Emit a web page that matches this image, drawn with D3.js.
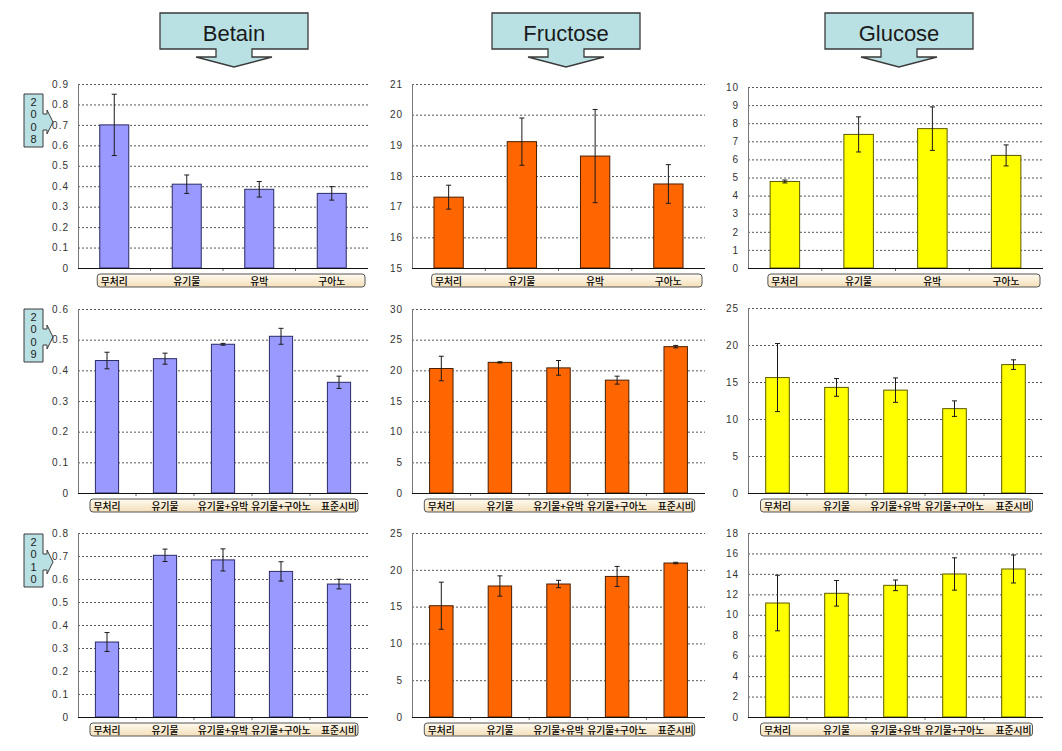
<!DOCTYPE html>
<html><head><meta charset="utf-8">
<script src="https://cdn.jsdelivr.net/npm/d3@7"></script>
<style>
html,body{margin:0;padding:0;background:#fff;}
svg{display:block;}
</style></head>
<body>
<svg id="chart" width="1062" height="751"></svg>
<script>
// ---------------- data ----------------
const compounds = ["Betain", "Fructose", "Glucose"];
const years = ["2008", "2009", "2010"];
const categories2008 = ["무처리", "유기물", "유박", "구아노"];
const categories = ["무처리", "유기물", "유기물+유박", "유기물+구아노", "표준시비"];

const betain2008 = [0.70, 0.41, 0.385, 0.365];
const betain2008Err = [0.15, 0.045, 0.038, 0.033];
const fructose2008 = [17.31, 19.12, 18.65, 17.74];
const fructose2008Err = [0.39, 0.77, 1.52, 0.63];
const glucose2008 = [4.78, 7.38, 7.70, 6.22];
const glucose2008Err = [0.08, 0.97, 1.2, 0.58];

const betain2009 = [0.432, 0.438, 0.485, 0.511, 0.361];
const betain2009Err = [0.027, 0.018, 0.003, 0.026, 0.02];
const fructose2009 = [20.3, 21.3, 20.4, 18.4, 23.86];
const fructose2009Err = [2.0, 0.1, 1.2, 0.65, 0.2];
const glucose2009 = [15.6, 14.27, 13.9, 11.4, 17.35];
const glucose2009Err = [4.6, 1.2, 1.65, 1.05, 0.65];

const betain2010 = [0.326, 0.703, 0.683, 0.633, 0.578];
const betain2010Err = [0.041, 0.027, 0.048, 0.042, 0.021];
const fructose2010 = [15.12, 17.8, 18.07, 19.1, 20.92];
const fructose2010Err = [3.2, 1.38, 0.5, 1.36, 0.1];
const glucose2010 = [11.15, 12.1, 12.88, 13.99, 14.48];
const glucose2010Err = [2.72, 1.25, 0.52, 1.58, 1.37];

const betain2008Ticks = [0, 0.1, 0.2, 0.3, 0.4, 0.5, 0.6, 0.7, 0.8, 0.9];
const fructose2008Ticks = [15, 16, 17, 18, 19, 20, 21];
const glucose2008Ticks = [0, 1, 2, 3, 4, 5, 6, 7, 8, 9, 10];
const betain2009Ticks = [0, 0.1, 0.2, 0.3, 0.4, 0.5, 0.6];
const fructose2009Ticks = [0, 5, 10, 15, 20, 25, 30];
const glucose2009Ticks = [0, 5, 10, 15, 20, 25];
const betain2010Ticks = [0, 0.1, 0.2, 0.3, 0.4, 0.5, 0.6, 0.7, 0.8];
const fructose2010Ticks = [0, 5, 10, 15, 20, 25];
const glucose2010Ticks = [0, 2, 4, 6, 8, 10, 12, 14, 16, 18];

// ---------------- layout / style ----------------
const fills = ["#9999ff", "#ff6600", "#ffff00"];
const outlines = ["#2b2b66", "#4a1e00", "#5c5a00"];
const colX = [78, 412, 748];
const colW = [290, 293, 295];
const rowTop = [[84, 84, 87], [309, 309, 308], [533, 533, 533]];
const rowBottom = [268, 493, 717];
const calloutCx = [234, 566, 899];
const yearBoxTop = [94, 309, 534];

const panels = [
  {r:0,c:0,cats:categories2008,v:betain2008,e:betain2008Err,t:betain2008Ticks},
  {r:0,c:1,cats:categories2008,v:fructose2008,e:fructose2008Err,t:fructose2008Ticks},
  {r:0,c:2,cats:categories2008,v:glucose2008,e:glucose2008Err,t:glucose2008Ticks},
  {r:1,c:0,cats:categories,v:betain2009,e:betain2009Err,t:betain2009Ticks},
  {r:1,c:1,cats:categories,v:fructose2009,e:fructose2009Err,t:fructose2009Ticks},
  {r:1,c:2,cats:categories,v:glucose2009,e:glucose2009Err,t:glucose2009Ticks},
  {r:2,c:0,cats:categories,v:betain2010,e:betain2010Err,t:betain2010Ticks},
  {r:2,c:1,cats:categories,v:fructose2010,e:fructose2010Err,t:fructose2010Ticks},
  {r:2,c:2,cats:categories,v:glucose2010,e:glucose2010Err,t:glucose2010Ticks}
];

const svg = d3.select("#chart");
const defs = svg.append("defs");
const grad = defs.append("linearGradient").attr("id","lblGrad").attr("x1",0).attr("y1",0).attr("x2",0).attr("y2",1);
grad.append("stop").attr("offset","0%").attr("stop-color","#fffaf0");
grad.append("stop").attr("offset","100%").attr("stop-color","#f3dfb8");

const calloutFill = "#b9e1e4";

// ---------------- header callouts ----------------
compounds.forEach((name, i) => {
  const cx = calloutCx[i], top = 13, h = 36, w = 148;
  const g = svg.append("g");
  const p = d3.path();
  p.moveTo(cx - w/2, top);
  p.lineTo(cx + w/2, top);
  p.lineTo(cx + w/2, top + h);
  p.lineTo(cx + 18, top + h);
  p.lineTo(cx + 18, top + h + 8);
  p.lineTo(cx + 38, top + h + 8);
  p.lineTo(cx, top + h + 18);
  p.lineTo(cx - 38, top + h + 8);
  p.lineTo(cx - 18, top + h + 8);
  p.lineTo(cx - 18, top + h);
  p.lineTo(cx - w/2, top + h);
  p.closePath();
  g.append("path").attr("d", p.toString()).attr("fill", calloutFill)
    .attr("stroke", "#3a3a3a").attr("stroke-width", 1.3);
  g.append("text").attr("x", cx).attr("y", top + 28)
    .attr("text-anchor", "middle")
    .attr("font-family", "Liberation Sans, Arial, sans-serif")
    .attr("font-size", 22).attr("fill", "#1a1a1a").text(name);
});

// ---------------- year callouts ----------------
years.forEach((yr, i) => {
  const top = yearBoxTop[i], x0 = 24, w = 19, h = 53, mid = top + 28;
  const g = svg.append("g");
  const p = d3.path();
  p.moveTo(x0, top);
  p.lineTo(x0 + w, top);
  p.lineTo(x0 + w, mid - 8);
  p.lineTo(x0 + w + 4, mid - 8);
  p.lineTo(x0 + w + 4, mid - 12);
  p.lineTo(x0 + w + 10, mid);
  p.lineTo(x0 + w + 4, mid + 12);
  p.lineTo(x0 + w + 4, mid + 8);
  p.lineTo(x0 + w, mid + 8);
  p.lineTo(x0 + w, top + h);
  p.lineTo(x0, top + h);
  p.closePath();
  g.append("path").attr("d", p.toString()).attr("fill", calloutFill)
    .attr("stroke", "#3a3a3a").attr("stroke-width", 1);
  yr.split("").forEach((ch, k) => {
    g.append("text").attr("x", x0 + w/2).attr("y", top + 12 + k * 12.3)
      .attr("text-anchor", "middle")
      .attr("font-family", "Liberation Sans, Arial, sans-serif")
      .attr("font-size", 11).attr("fill", "#222").text(ch);
  });
});

// ---------------- panels ----------------
const fmtDec = d3.format(".1f");
panels.forEach(P => {
  const x0 = colX[P.c], w = colW[P.c];
  const top = rowTop[P.r][P.c], bottom = rowBottom[P.r];
  const g = svg.append("g");
  const x = d3.scaleBand().domain(P.cats).range([x0, x0 + w])
    .paddingInner(0.6).paddingOuter(0.3);
  const y = d3.scaleLinear().domain([P.t[0], P.t[P.t.length - 1]]).range([bottom, top]);
  const isDec = P.t.some(t => t % 1 !== 0);
  const fmt = d => d === 0 ? "0" : (isDec ? fmtDec(d) : String(d));

  // grid + tick labels
  const ax = g.append("g").attr("transform", `translate(${x0},0)`)
    .call(d3.axisLeft(y).tickValues(P.t).tickSize(-w).tickPadding(9).tickFormat(fmt));
  ax.select(".domain").remove();
  ax.selectAll(".tick line")
    .attr("stroke", "#555").attr("stroke-dasharray", "2,2")
    .attr("display", d => d === P.t[0] ? "none" : null);
  ax.selectAll(".tick text")
    .attr("font-family", "Liberation Sans, Arial, sans-serif")
    .attr("font-size", 10).attr("letter-spacing", 1).attr("fill", "#333");

  // bars
  g.selectAll("rect.bar").data(P.v).join("rect").attr("class", "bar")
    .attr("x", (d, i) => x(P.cats[i]))
    .attr("width", x.bandwidth())
    .attr("y", d => y(d))
    .attr("height", d => y(P.t[0]) - y(d))
    .attr("fill", fills[P.c])
    .attr("stroke", outlines[P.c]).attr("stroke-width", 1);

  // error bars
  const eb = g.append("g").attr("stroke", "#1a1a1a").attr("stroke-width", 1);
  P.v.forEach((v, i) => {
    const cx = x(P.cats[i]) + x.bandwidth() / 2;
    const e = P.e[i];
    eb.append("line").attr("x1", cx).attr("x2", cx).attr("y1", y(v + e)).attr("y2", y(v - e));
    eb.append("line").attr("x1", cx - 2.5).attr("x2", cx + 2.5).attr("y1", y(v + e)).attr("y2", y(v + e));
    eb.append("line").attr("x1", cx - 2.5).attr("x2", cx + 2.5).attr("y1", y(v - e)).attr("y2", y(v - e));
  });

  // axis lines
  g.append("line").attr("x1", x0 + 0.5).attr("x2", x0 + 0.5).attr("y1", top).attr("y2", bottom)
    .attr("stroke", "#777").attr("stroke-width", 1);
  g.append("line").attr("x1", x0).attr("x2", x0 + w).attr("y1", bottom + 0.5).attr("y2", bottom + 0.5)
    .attr("stroke", "#111").attr("stroke-width", 1.2);
  // category separator ticks
  const step = x.step();
  for (let k = 1; k < P.cats.length; k++) {
    const tx = x0 + k * step;
    g.append("line").attr("x1", tx).attr("x2", tx).attr("y1", bottom + 1).attr("y2", bottom + 3)
      .attr("stroke", "#666").attr("stroke-width", 1);
  }

  // category label box
  const n = P.cats.length;
  const c0 = x(P.cats[0]) + x.bandwidth() / 2;
  const cN = x(P.cats[n - 1]) + x.bandwidth() / 2;
  const bx0 = c0 - 17;
  const bx1 = n === 4 ? x0 + w - 3 : cN + 19;
  const by = bottom + 6, bh = 13;
  g.append("rect").attr("x", bx0).attr("y", by).attr("width", bx1 - bx0).attr("height", bh)
    .attr("rx", 3).attr("fill", "url(#lblGrad)").attr("stroke", "#555").attr("stroke-width", 1);
  g.selectAll("text.cat").data(P.cats).join("text").attr("class", "cat")
    .attr("x", d => x(d) + x.bandwidth() / 2)
    .attr("y", by + 10.5)
    .attr("text-anchor", "middle")
    .attr("font-family", "Noto Sans CJK KR, sans-serif")
    .attr("font-size", 9.8).attr("font-weight", 500).attr("fill", "#000")
    .text(d => d);
});
</script>
</body></html>
